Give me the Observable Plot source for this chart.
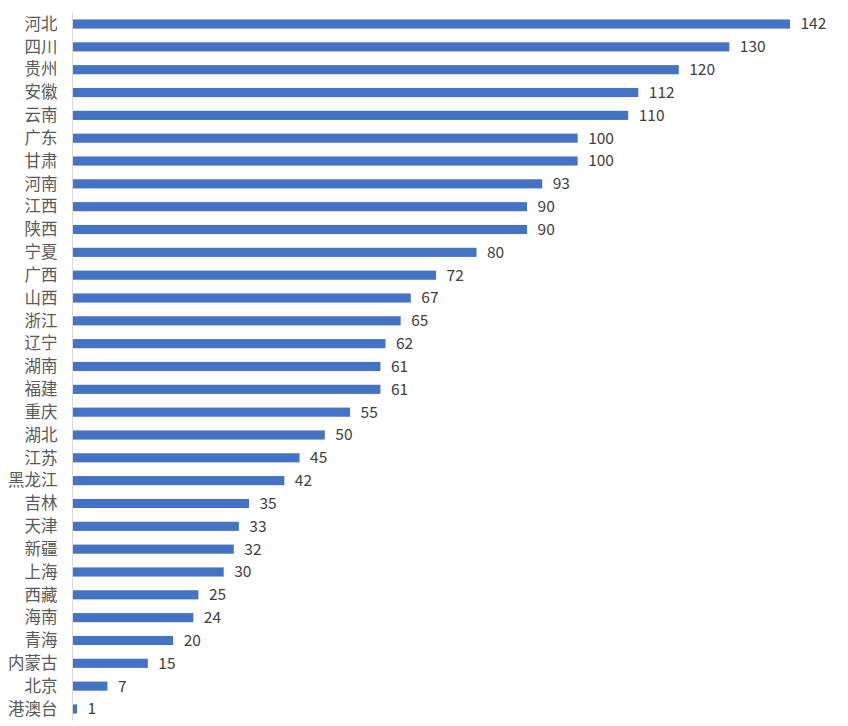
<!DOCTYPE html>
<html><head><meta charset="utf-8">
<script src="https://cdn.jsdelivr.net/npm/d3@7"></script>
<script src="https://cdn.jsdelivr.net/npm/@observablehq/plot@0.6"></script>
<style>body{margin:0;background:#fff;} svg{display:block;}</style>
</head><body><div id="chart"></div>
<script>
const provinces = ["河北","四川","贵州","安徽","云南","广东","甘肃","河南","江西","陕西","宁夏","广西","山西","浙江","辽宁","湖南","福建","重庆","湖北","江苏","黑龙江","吉林","天津","新疆","上海","西藏","海南","青海","内蒙古","北京","港澳台"];
const values = [142,130,120,112,110,100,100,93,90,90,80,72,67,65,62,61,61,55,50,45,42,35,33,32,30,25,24,20,15,7,1];
const data = provinces.map((p, i) => ({province: p, value: values[i]}));

const chart = Plot.plot({
  width: 848,
  height: 726,
  marginLeft: 72,
  marginRight: 58,
  marginTop: 12.5,
  marginBottom: 5.5,
  style: {fontFamily: "'Noto Sans CJK SC', 'Noto Sans', sans-serif", background: "#fff"},
  x: {domain: [0, 142], axis: null},
  y: {domain: provinces, paddingInner: 0.6, paddingOuter: 0.305, round: false, axis: null},
  marks: [
    Plot.barX(data, {x: "value", y: "province", fill: "#4472c4", insetLeft: 1}),
    Plot.ruleX([0], {stroke: "#d9d9d9", strokeWidth: 1}),
    Plot.text(data, {x: "value", y: "province", text: d => String(d.value), textAnchor: "start", dx: 10, fontSize: 15.5, fill: "#404040"}),
    Plot.text(data, {x: 0, y: "province", text: "province", textAnchor: "end", dx: -15, fontSize: 16.5, fill: "#595959"})
  ]
});
document.getElementById("chart").appendChild(chart);
</script>
</body></html>
